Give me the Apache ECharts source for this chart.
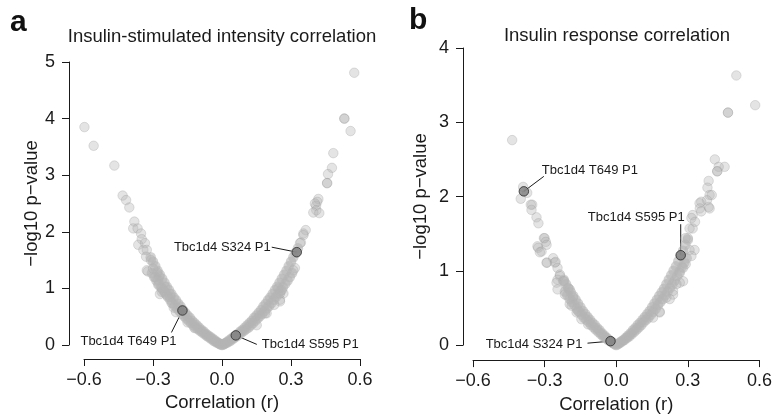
<!DOCTYPE html>
<html>
<head>
<meta charset="utf-8">
<script src="https://cdn.jsdelivr.net/npm/echarts@6/dist/echarts.min.js"></script>
<style>
  html, body { margin: 0; padding: 0; background: #fff; }
  #chart { width: 775px; height: 419px; }
</style>
</head>
<body>
<div id="chart"></div>
<script>
// x ticks shared by both panels
const corrTicks = [-0.6, -0.3, 0, 0.3, 0.6]

// ---- panel a: insulin-stimulated intensity correlation [r, -log10 p]
const bandA = [
  [-0.31, 1.55], [-0.30, 1.47], [-0.29, 1.39], [-0.28, 1.31], [-0.27, 1.24], [-0.26, 1.17],
  [-0.25, 1.10], [-0.24, 1.03], [-0.23, 0.97], [-0.22, 0.90], [-0.21, 0.84], [-0.20, 0.79],
  [-0.19, 0.73], [-0.18, 0.68], [-0.17, 0.62], [-0.16, 0.57], [-0.15, 0.52], [-0.14, 0.48],
  [-0.13, 0.43], [-0.12, 0.39], [-0.11, 0.35], [-0.10, 0.31], [-0.09, 0.27], [-0.08, 0.24],
  [-0.07, 0.20], [-0.06, 0.17], [-0.05, 0.14], [-0.04, 0.11], [-0.03, 0.08], [-0.02, 0.05],
  [-0.01, 0.02], [0.00, 0.00],
  [-0.305, 1.27], [-0.295, 1.20], [-0.285, 1.14], [-0.275, 1.08], [-0.265, 1.02], [-0.255, 0.96],
  [-0.245, 0.91], [-0.235, 0.85], [-0.225, 0.80], [-0.215, 0.74], [-0.205, 0.69], [-0.195, 0.65],
  [-0.185, 0.60], [-0.175, 0.55], [-0.165, 0.51], [-0.155, 0.47], [-0.145, 0.43], [-0.135, 0.39],
  [-0.125, 0.35], [-0.115, 0.31], [-0.105, 0.28], [-0.095, 0.25], [-0.085, 0.22], [-0.075, 0.19],
  [-0.065, 0.16], [-0.055, 0.13], [-0.045, 0.10], [-0.035, 0.07], [-0.025, 0.05], [-0.015, 0.03],
  [-0.005, 0.01],
  [0.01, 0.02], [0.02, 0.05], [0.03, 0.08], [0.04, 0.11], [0.05, 0.14], [0.06, 0.17],
  [0.07, 0.20], [0.08, 0.24], [0.09, 0.27], [0.10, 0.31], [0.11, 0.35], [0.12, 0.39],
  [0.13, 0.43], [0.14, 0.48], [0.15, 0.52], [0.16, 0.57], [0.17, 0.62], [0.18, 0.68],
  [0.19, 0.73], [0.20, 0.79], [0.21, 0.84], [0.22, 0.90], [0.23, 0.97], [0.24, 1.03],
  [0.25, 1.10], [0.26, 1.17], [0.27, 1.24], [0.28, 1.31], [0.29, 1.39], [0.30, 1.47],
  [0.31, 1.55], [0.32, 1.63], [0.33, 1.71],
  [0.005, 0.01], [0.015, 0.03], [0.025, 0.05], [0.035, 0.07], [0.045, 0.10], [0.055, 0.13],
  [0.065, 0.16], [0.075, 0.19], [0.085, 0.22], [0.095, 0.25], [0.105, 0.28], [0.115, 0.31],
  [0.125, 0.35], [0.135, 0.39], [0.145, 0.43], [0.155, 0.47], [0.165, 0.51], [0.175, 0.55],
  [0.185, 0.60], [0.195, 0.65], [0.205, 0.69], [0.215, 0.74], [0.225, 0.80], [0.235, 0.85],
  [0.245, 0.91], [0.255, 0.96], [0.265, 1.02], [0.275, 1.08], [0.285, 1.14], [0.295, 1.20],
  [0.305, 1.27]
]
const spreadA = [
  [-0.598, 3.85], [-0.558, 3.52], [-0.468, 3.17], [-0.432, 2.64], [-0.417, 2.56], [-0.403, 2.43],
  [-0.381, 2.18], [-0.386, 2.06], [-0.367, 2.06], [-0.352, 1.97], [-0.349, 1.87], [-0.364, 1.77],
  [-0.342, 1.68], [-0.335, 1.80], [-0.327, 1.68], [-0.330, 1.56], [-0.309, 1.50], [-0.323, 1.30],
  [-0.327, 1.32], [-0.281, 1.28], [-0.273, 1.21], [-0.277, 1.15], [-0.277, 1.06], [-0.270, 0.90],
  [-0.262, 0.94], [-0.248, 0.94], [-0.248, 1.03], [-0.226, 0.85], [-0.226, 0.90], [-0.219, 0.74],
  [-0.300, 1.35], [-0.290, 1.20], [-0.260, 1.00], [-0.240, 0.88], [-0.210, 0.66], [-0.200, 0.58],
  [-0.150, 0.40], [-0.120, 0.30],
  [0.575, 4.81], [0.532, 4.00], [0.532, 4.00], [0.559, 3.78], [0.484, 3.39], [0.478, 3.13],
  [0.461, 3.02], [0.457, 2.86], [0.457, 2.86], [0.419, 2.58], [0.414, 2.53], [0.409, 2.46],
  [0.404, 2.50], [0.410, 2.38], [0.397, 2.34], [0.423, 2.33], [0.364, 2.03], [0.354, 1.97],
  [0.354, 1.94], [0.343, 1.81], [0.339, 1.80], [0.317, 1.36], [0.310, 1.32], [0.267, 0.91],
  [0.252, 0.91], [0.245, 1.00], [0.260, 0.97], [0.252, 0.80], [0.252, 0.77], [0.227, 0.71],
  [0.194, 0.56], [0.187, 0.56], [0.151, 0.35]
]
const hiNamesA = ['Tbc1d4 T649 P1', 'Tbc1d4 S595 P1', 'Tbc1d4 S324 P1']
const hiCorrA = [-0.172, 0.060, 0.325]
const hiLogpA = [0.61, 0.17, 1.64]

// ---- panel b: insulin response correlation [r, -log10 p]
const bandB = [
  [-0.22, 0.88], [-0.21, 0.82], [-0.20, 0.76], [-0.19, 0.71], [-0.18, 0.66], [-0.17, 0.61],
  [-0.16, 0.56], [-0.15, 0.51], [-0.14, 0.46], [-0.13, 0.42], [-0.12, 0.38], [-0.11, 0.34],
  [-0.10, 0.30], [-0.09, 0.27], [-0.08, 0.23], [-0.07, 0.20], [-0.06, 0.16], [-0.05, 0.13],
  [-0.04, 0.10], [-0.03, 0.07], [-0.02, 0.05], [-0.01, 0.02], [0.00, 0.00],
  [-0.215, 0.72], [-0.205, 0.67], [-0.195, 0.62], [-0.185, 0.58], [-0.175, 0.54], [-0.165, 0.49],
  [-0.155, 0.45], [-0.145, 0.41], [-0.135, 0.37], [-0.125, 0.34], [-0.115, 0.31], [-0.105, 0.27],
  [-0.095, 0.24], [-0.085, 0.21], [-0.075, 0.18], [-0.065, 0.15], [-0.055, 0.12], [-0.045, 0.10],
  [-0.035, 0.07], [-0.025, 0.05], [-0.015, 0.03], [-0.005, 0.01],
  [0.01, 0.02], [0.02, 0.05], [0.03, 0.07], [0.04, 0.10], [0.05, 0.13], [0.06, 0.16],
  [0.07, 0.20], [0.08, 0.23], [0.09, 0.27], [0.10, 0.30], [0.11, 0.34], [0.12, 0.38],
  [0.13, 0.42], [0.14, 0.46], [0.15, 0.51], [0.16, 0.56], [0.17, 0.61], [0.18, 0.66],
  [0.19, 0.71], [0.20, 0.76], [0.21, 0.82], [0.22, 0.88], [0.23, 0.94], [0.24, 1.00],
  [0.25, 1.06], [0.26, 1.13], [0.27, 1.20], [0.28, 1.27], [0.29, 1.35], [0.30, 1.42],
  [0.005, 0.01], [0.015, 0.03], [0.025, 0.05], [0.035, 0.07], [0.045, 0.10], [0.055, 0.12],
  [0.065, 0.15], [0.075, 0.18], [0.085, 0.21], [0.095, 0.24], [0.105, 0.27], [0.115, 0.31],
  [0.125, 0.34], [0.135, 0.37], [0.145, 0.41], [0.155, 0.45], [0.165, 0.49], [0.175, 0.54],
  [0.185, 0.58], [0.195, 0.62], [0.205, 0.67], [0.215, 0.72], [0.225, 0.77], [0.235, 0.82],
  [0.245, 0.87], [0.255, 0.93], [0.265, 0.99], [0.275, 1.05], [0.285, 1.11], [0.295, 1.17]
]
const spreadB = [
  [-0.436, 2.76], [-0.390, 2.13], [-0.373, 2.05], [-0.400, 1.97], [-0.352, 1.89], [-0.358, 1.89],
  [-0.355, 1.82], [-0.334, 1.72], [-0.326, 1.64], [-0.303, 1.44], [-0.300, 1.44], [-0.295, 1.39],
  [-0.292, 1.35], [-0.330, 1.33], [-0.327, 1.31], [-0.313, 1.26], [-0.320, 1.25], [-0.290, 1.11],
  [-0.292, 1.11], [-0.264, 1.17], [-0.257, 1.11], [-0.254, 1.12], [-0.246, 1.04], [-0.236, 0.95],
  [-0.236, 0.93], [-0.246, 0.88], [-0.222, 0.86], [-0.218, 0.86], [-0.250, 0.84], [-0.246, 0.75],
  [-0.202, 0.77], [-0.195, 0.75], [-0.215, 0.68], [-0.181, 0.64], [-0.195, 0.55], [-0.187, 0.53],
  [-0.166, 0.44], [-0.160, 0.46], [-0.146, 0.35], [-0.118, 0.28],
  [0.503, 3.63], [0.582, 3.23], [0.468, 3.13], [0.468, 3.13], [0.413, 2.50], [0.454, 2.40],
  [0.429, 2.40], [0.423, 2.34], [0.423, 2.34], [0.387, 2.21], [0.382, 2.12], [0.391, 2.02],
  [0.400, 2.02], [0.380, 1.95], [0.356, 1.93], [0.349, 1.91], [0.387, 1.86], [0.391, 1.84],
  [0.350, 1.84], [0.356, 1.80], [0.320, 1.75], [0.315, 1.71], [0.330, 1.66], [0.320, 1.57],
  [0.307, 1.57], [0.300, 1.44], [0.290, 1.44], [0.328, 1.28], [0.307, 1.28], [0.315, 1.20],
  [0.291, 1.09], [0.280, 1.04], [0.266, 0.97], [0.280, 0.86], [0.266, 0.84], [0.252, 0.82],
  [0.238, 0.73], [0.238, 0.68], [0.224, 0.62], [0.210, 0.64], [0.182, 0.45], [0.182, 0.44],
  [0.154, 0.37]
]
const hiNamesB = ['Tbc1d4 T649 P1', 'Tbc1d4 S595 P1', 'Tbc1d4 S324 P1']
const hiCorrB = [-0.387, 0.270, -0.024]
const hiLogpB = [2.07, 1.21, 0.053]

// label placement for highlighted sites, pixels relative to the point
// [textDx, textDy, align, lineDx, lineDy]
const labelPosA = [[-102, 31, 'left', -11, 22], [26, 9, 'left', 21, 9], [-26, -5, 'right', -25, -5]]
const labelPosB = [[18, -21, 'left', 20, -15], [4, -38, 'right', 0, -31], [-28, 3, 'right', -23, 2]]

const FONT = '"Liberation Sans", Arial, Helvetica, sans-serif'
const INK = '#1a1a1a'

const chart = echarts.init(document.getElementById('chart'), null, { renderer: 'canvas' })

function fmtTick(v) {
  return (Math.round(v * 10) / 10).toFixed(1).replace('-', '\u2212')
}

function xAxisFor(gridIndex, offset) {
  return {
    gridIndex: gridIndex,
    type: 'value',
    min: corrTicks[0],
    max: corrTicks[corrTicks.length - 1],
    interval: 0.3,
    offset: offset,
    name: 'Correlation (r)',
    nameLocation: 'middle',
    nameGap: 33,
    nameTextStyle: { fontFamily: FONT, fontSize: 18.5, color: INK },
    axisLine: { show: true, onZero: false, lineStyle: { color: INK, width: 1 } },
    axisTick: { show: true, length: 7, lineStyle: { color: INK } },
    axisLabel: { fontFamily: FONT, fontSize: 18, color: INK, margin: 12, formatter: fmtTick },
    splitLine: { show: false }
  }
}

function yAxisFor(gridIndex, max, offset, gap) {
  return {
    gridIndex: gridIndex,
    type: 'value',
    min: 0,
    max: max,
    interval: 1,
    offset: offset,
    name: '\u2212log10 p\u2212value',
    nameLocation: 'middle',
    nameGap: gap,
    nameTextStyle: { fontFamily: FONT, fontSize: 18.5, color: INK },
    axisLine: { show: true, onZero: false, lineStyle: { color: INK, width: 1 } },
    axisTick: { show: true, length: 7, lineStyle: { color: INK } },
    axisLabel: { fontFamily: FONT, fontSize: 18, color: INK, margin: 14 },
    splitLine: { show: false }
  }
}

// dense band gets a stronger alpha so it saturates like the overplotted original
function greySeries(idx, data, alpha, size, border) {
  return {
    type: 'scatter',
    xAxisIndex: idx,
    yAxisIndex: idx,
    data: data,
    symbolSize: size,
    clip: false,
    silent: true,
    itemStyle: {
      color: 'rgba(180,180,180,' + alpha + ')',
      borderColor: 'rgba(150,150,150,' + alpha + ')',
      borderWidth: border
    },
    z: 2
  }
}

function hiSeries(idx, names, corr, logp) {
  return {
    type: 'scatter',
    xAxisIndex: idx,
    yAxisIndex: idx,
    data: names.map((n, i) => ({ name: n, value: [corr[i], logp[i]] })),
    symbolSize: 9.5,
    clip: false,
    silent: true,
    itemStyle: { color: '#7d7d7d', borderColor: '#2a2a2a', borderWidth: 1 },
    z: 5
  }
}

chart.setOption({
  animation: false,
  backgroundColor: '#ffffff',
  grid: [
    { left: 84, right: 415, top: 62, bottom: 74 },
    { left: 473, right: 15, top: 48, bottom: 71 }
  ],
  xAxis: [xAxisFor(0, 14), xAxisFor(1, 15)],
  yAxis: [yAxisFor(0, 5, 15, 28), yAxisFor(1, 4, 10, 33)],
  series: [
    greySeries(0, spreadA, 0.45, 9.5, 0.8),
    greySeries(1, spreadB, 0.45, 9.5, 0.8),
    greySeries(0, bandA, 0.75, 10.5, 0),
    greySeries(1, bandB, 0.75, 10.5, 0),
    hiSeries(0, hiNamesA, hiCorrA, hiLogpA),
    hiSeries(1, hiNamesB, hiCorrB, hiLogpB)
  ]
})

// titles, panel letters and site annotations
const graphics = [
  { type: 'text', x: 10, y: 8, style: { text: 'a', font: 'bold 30px ' + FONT, fill: '#111' } },
  { type: 'text', x: 409, y: 6, style: { text: 'b', font: 'bold 30px ' + FONT, fill: '#111' } },
  { type: 'text', x: 222, y: 37, style: { text: 'Insulin-stimulated intensity correlation', font: '18.5px ' + FONT, fill: INK, textAlign: 'center', textVerticalAlign: 'middle' } },
  { type: 'text', x: 617, y: 36, style: { text: 'Insulin response correlation', font: '18.5px ' + FONT, fill: INK, textAlign: 'center', textVerticalAlign: 'middle' } }
]

function addLabels(gridIndex, names, corr, logp, pos) {
  names.forEach((n, i) => {
    const p = chart.convertToPixel({ gridIndex: gridIndex }, [corr[i], logp[i]])
    const c = pos[i]
    graphics.push({
      type: 'line',
      z: 1,
      shape: { x1: p[0], y1: p[1], x2: p[0] + c[3], y2: p[1] + c[4] },
      style: { stroke: INK, lineWidth: 1 }
    })
    graphics.push({
      type: 'text',
      x: p[0] + c[0],
      y: p[1] + c[1],
      style: { text: n, font: '13px ' + FONT, fill: INK, textAlign: c[2], textVerticalAlign: 'middle' }
    })
  })
}
addLabels(0, hiNamesA, hiCorrA, hiLogpA, labelPosA)
addLabels(1, hiNamesB, hiCorrB, hiLogpB, labelPosB)

chart.setOption({ graphic: graphics })
</script>
</body>
</html>
